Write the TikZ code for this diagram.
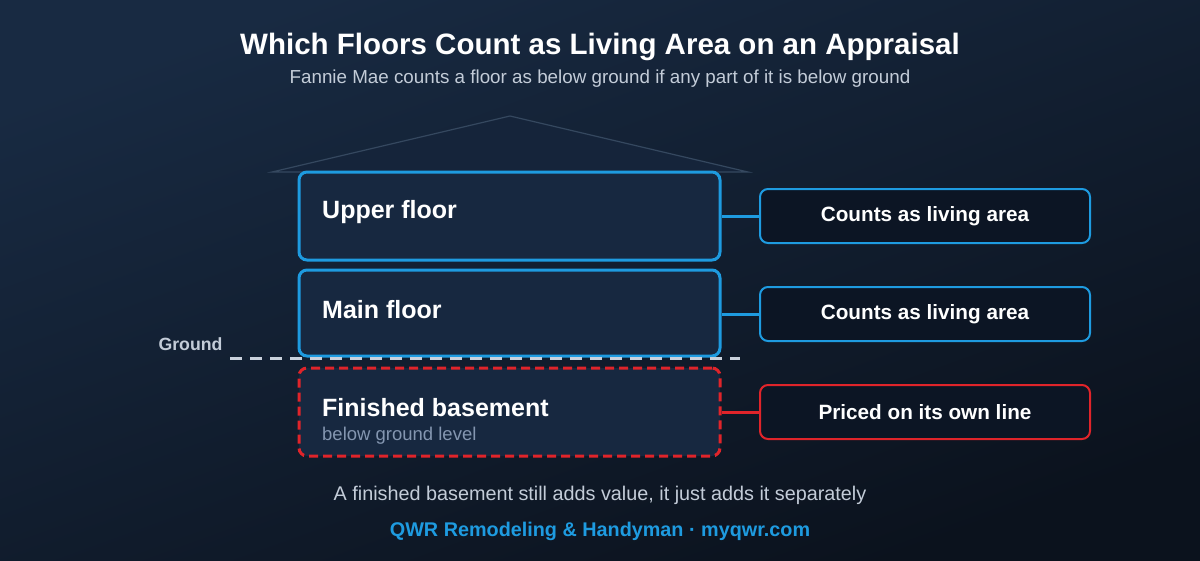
\documentclass[tikz,border=0pt]{standalone}
\usepackage{fontspec}
\setmainfont{Liberation Sans}
\usetikzlibrary{positioning}
\definecolor{bgtop}{HTML}{182A42}
\definecolor{bgbot}{HTML}{0B121D}
\definecolor{qblue}{HTML}{1E9BE0}
\definecolor{qred}{HTML}{E0242A}
\definecolor{floorfill}{HTML}{172840}
\definecolor{tagfill}{HTML}{0C1524}
\definecolor{roofline}{HTML}{35485F}
\definecolor{rooffill}{HTML}{15243A}
\definecolor{subtext}{HTML}{C3CCD8}
\definecolor{mutetext}{HTML}{8496B0}
\tikzset{
  floorbox/.style={draw=qblue, line width=3pt, fill=floorfill, rounded corners=8pt,
    minimum width=421pt, minimum height=86pt, inner sep=0pt},
  basebox/.style={floorbox, draw=qred, dash pattern=on 9pt off 5pt},
  tagbox/.style={draw=qblue, line width=2pt, fill=tagfill, rounded corners=8pt,
    minimum width=330pt, minimum height=54pt, inner sep=0pt, text=white,
    font=\fontsize{20.7}{24}\selectfont\bfseries},
  redtag/.style={tagbox, draw=qred},
  floorlabel/.style={anchor=west, text=white, inner sep=0pt, font=\fontsize{25}{28}\selectfont\bfseries},
  link/.style={draw=qblue, line width=3pt},
  redlink/.style={link, draw=qred},
}
\begin{document}
\begin{tikzpicture}[x=1pt,y=-1pt]
\shade[top color=bgtop, bottom color=bgbot, shading angle=20] (0,0) rectangle (1200,560);
\useasboundingbox (0,0) rectangle (1200,560);
% title
\node[text=white, font=\fontsize{29.5}{33}\selectfont\bfseries] (title) at (600,47) {Which Floors Count as Living Area on an Appraisal};
\node[text=subtext, font=\fontsize{18.8}{22}\selectfont] (sub) at (600,79) {Fannie Mae counts a floor as below ground if any part of it is below ground};
% roof
\filldraw[fill=rooffill, draw=roofline, line width=1.2pt] (272,172) -- (510,116) -- (748,172) -- cycle;
% floors
\node[floorbox, minimum height=88pt] (upper) at (509.5,216) {};
\node[floorbox] (main) at (509.5,313) {};
\node[basebox, minimum height=88pt] (base) at (509.5,412) {};
\node[floorlabel] (lupper) at (322,212) {Upper floor};
\node[floorlabel] (lmain) at (322,310) {Main floor};
\node[floorlabel] (lbase) at (322,408) {Finished basement};
\node[anchor=west, inner sep=0pt, text=mutetext, font=\fontsize{18.5}{21}\selectfont] (lbelow) at (322,436) {below ground level};
% ground
\coordinate (g1) at (230,358);
\coordinate (g2) at (740,358);
\draw[draw=subtext!90!white, line width=3pt, dash pattern=on 12pt off 8pt] (g1) -- (g2);
\node[anchor=east, text=subtext, font=\fontsize{17.7}{20}\selectfont\bfseries] (ground) at (226,344) {Ground};
% tags
\node[tagbox] (t1) at (925,216) {\raisebox{-3pt}{Counts as living area}};
\node[tagbox] (t2) at (925,314) {\raisebox{-3pt}{Counts as living area}};
\node[redtag] (t3) at (925,412) {\raisebox{-3pt}{Priced on its own line}};
\draw[link] (upper.east) -- (t1.west);
\draw[link] (main.east |- t2.west) -- (t2.west);
\draw[redlink] (base.east) -- (t3.west);
% footer
\node[text=subtext, font=\fontsize{19.8}{23}\selectfont] (foot) at (600,495) {A finished basement still adds value, it just adds it separately};
\node[text=qblue, font=\fontsize{19.8}{23}\selectfont\bfseries] (brand) at (600,531) {QWR Remodeling \& Handyman · myqwr.com};
\end{tikzpicture}
\end{document}
